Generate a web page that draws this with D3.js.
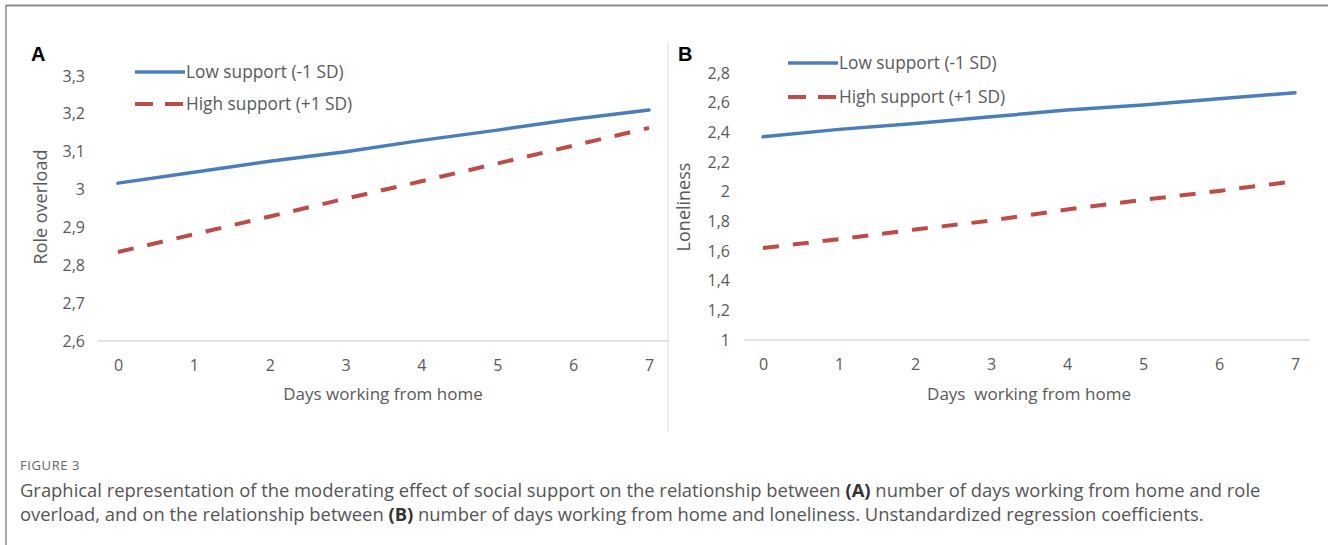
<!DOCTYPE html>
<html>
<head>
<meta charset="utf-8">
<script src="https://cdn.jsdelivr.net/npm/d3@7"></script>
<style>
  body { margin: 0; background: #fff; }
  .tick text { fill: #595959; }
</style>
</head>
<body>
<svg id="fig" width="1328" height="545"></svg>
<script>
  // data
  var days = [0, 1, 2, 3, 4, 5, 6, 7];
  var overloadLow  = [3.017, 3.046, 3.075, 3.100, 3.130, 3.157, 3.186, 3.210];
  var overloadHigh = [2.835, 2.882, 2.929, 2.976, 3.022, 3.069, 3.116, 3.163];
  var lonelyLow  = [2.370, 2.420, 2.460, 2.505, 2.550, 2.585, 2.627, 2.667];
  var lonelyHigh = [1.620, 1.680, 1.745, 1.805, 1.880, 1.945, 2.005, 2.070];
  var overloadTicks = [2.6, 2.7, 2.8, 2.9, 3.0, 3.1, 3.2, 3.3];
  var lonelyTicks = [1, 1.2, 1.4, 1.6, 1.8, 2, 2.2, 2.4, 2.6, 2.8];
  var seriesNames = ["Low support (-1 SD)", "High support (+1 SD)"];

  var chartFont = "'Open Sans', sans-serif";
  var blue = "#4a7ebb", red = "#be4b48";
  var fmt = function(d) { return String(+d.toFixed(1)).replace(".", ","); };

  var svg = d3.select("#fig");

  // frame
  svg.append("line").attr("x1", 6).attr("x2", 1328).attr("y1", 5.5).attr("y2", 5.5)
    .attr("stroke", "#8c8c8c").attr("stroke-width", 2);
  svg.append("line").attr("x1", 6).attr("x2", 6).attr("y1", 5).attr("y2", 545)
    .attr("stroke", "#8c8c8c").attr("stroke-width", 1.5);
  // divider between panels
  svg.append("line").attr("x1", 668).attr("x2", 668).attr("y1", 42).attr("y2", 432)
    .attr("stroke", "#e0e0e0").attr("stroke-width", 1);

  function panel(p) {
    var x = d3.scaleLinear().domain([0, 7]).range(p.xr);
    var y = d3.scaleLinear().domain(p.yd).range(p.yr);
    var g = svg.append("g");

    // baseline
    g.append("line")
      .attr("x1", x(p.ext[0])).attr("x2", x(p.ext[1]))
      .attr("y1", y(p.yd[0])).attr("y2", y(p.yd[0]))
      .attr("stroke", "#d9d9d9").attr("stroke-width", 1.5);

    var xa = g.append("g")
      .attr("transform", "translate(0," + (y(p.yd[0]) + 10) + ")")
      .call(d3.axisBottom(x).tickValues(days).tickSize(0).tickPadding(9).tickFormat(d3.format("d")));
    xa.select(".domain").remove();
    xa.selectAll("text").style("font-family", chartFont).style("font-size", "16px");

    var ya = g.append("g")
      .attr("transform", "translate(" + p.yAxisX + ",0)")
      .call(d3.axisLeft(y).tickValues(p.ticks).tickSize(0).tickPadding(0).tickFormat(fmt));
    ya.select(".domain").remove();
    ya.selectAll("text").style("font-family", chartFont).style("font-size", "16px");

    var line = d3.line().x(function(d, i) { return x(days[i]); }).y(function(d) { return y(d); });

    g.append("path").datum(p.low)
      .attr("fill", "none").attr("stroke", blue).attr("stroke-width", 3.5)
      .attr("stroke-linecap", "round").attr("d", line);
    g.append("path").datum(p.high)
      .attr("fill", "none").attr("stroke", red).attr("stroke-width", 4)
      .attr("stroke-dasharray", "16,14").attr("d", line);

    // legend
    var lg = g.append("g").attr("transform", "translate(" + p.leg[0] + "," + p.leg[1] + ")");
    lg.append("line").attr("x1", 0).attr("x2", 50).attr("y1", 0).attr("y2", 0)
      .attr("stroke", blue).attr("stroke-width", 3.5);
    lg.append("line").attr("x1", 0).attr("x2", 50).attr("y1", p.legGap).attr("y2", p.legGap)
      .attr("stroke", red).attr("stroke-width", 4).attr("stroke-dasharray", "18,12");
    lg.selectAll("text").data(seriesNames).join("text")
      .attr("x", 51).attr("y", function(d, i) { return i * p.legGap + 6; })
      .attr("fill", "#595959").style("font-family", chartFont).style("font-size", "17.3px")
      .text(function(d) { return d; });

    // panel letter
    g.append("text").attr("x", p.letter[0]).attr("y", p.letter[1])
      .style("font-family", "'Liberation Sans', Arial, sans-serif").style("font-weight", "bold")
      .style("font-size", "20px").attr("fill", "#000").text(p.name);

    // axis titles
    g.append("text")
      .attr("transform", "translate(" + p.yTitle[0] + "," + p.yTitle[1] + ") rotate(-90)")
      .attr("text-anchor", "middle").attr("fill", "#595959")
      .style("font-family", chartFont).style("font-size", "18px")
      .text(p.yLabel);
    g.append("text")
      .attr("x", p.xTitle[0]).attr("y", p.xTitle[1])
      .attr("text-anchor", "middle").attr("fill", "#595959")
      .style("font-family", chartFont).style("font-size", "17px").style("white-space", "pre")
      .text(p.xLabel);
  }

  panel({
    name: "A", xr: [118, 649], ext: [-0.27, 7.25], yd: [2.6, 3.3], yr: [341, 76],
    ticks: overloadTicks, yAxisX: 85, low: overloadLow, high: overloadHigh,
    leg: [135, 72], legGap: 32, letter: [31, 61], yTitle: [47, 207], yLabel: "Role overload",
    xTitle: [383, 400], xLabel: "Days working from home"
  });
  panel({
    name: "B", xr: [763, 1295], ext: [-0.25, 7.2], yd: [1, 2.8], yr: [340, 73],
    ticks: lonelyTicks, yAxisX: 730, low: lonelyLow, high: lonelyHigh,
    leg: [788, 63], legGap: 34, letter: [678, 61], yTitle: [690, 207], yLabel: "Loneliness",
    xTitle: [1029, 400], xLabel: "Days  working from home"
  });

  // caption
  var cap = svg.append("g").style("font-family", "'Open Sans', sans-serif").attr("fill", "#555");
  cap.append("text").attr("x", 20).attr("y", 470).style("font-size", "13px")
    .style("letter-spacing", "0.6px").attr("fill", "#666").text("FIGURE 3");
  var l1 = cap.append("text").attr("x", 20).attr("y", 497).style("font-size", "18.4px");
  l1.append("tspan").text("Graphical representation of the moderating effect of social support on the relationship between ");
  l1.append("tspan").style("font-weight", "bold").attr("fill", "#333").text("(A)");
  l1.append("tspan").text(" number of days working from home and role");
  var l2 = cap.append("text").attr("x", 20).attr("y", 521).style("font-size", "18.4px");
  l2.append("tspan").text("overload, and on the relationship between ");
  l2.append("tspan").style("font-weight", "bold").attr("fill", "#333").text("(B)");
  l2.append("tspan").text(" number of days working from home and loneliness. Unstandardized regression coefficients.");
</script>
</body>
</html>
